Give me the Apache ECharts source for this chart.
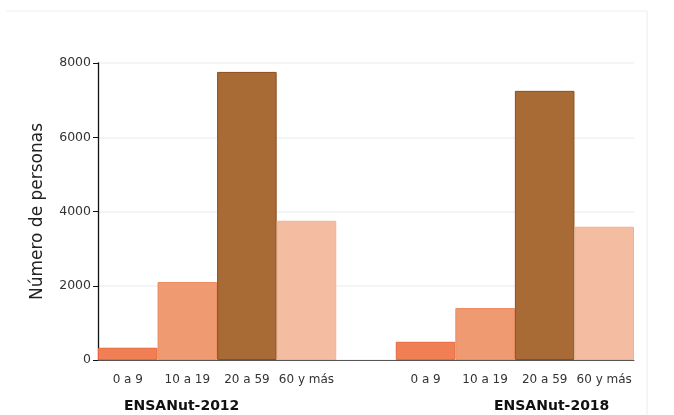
<!DOCTYPE html>
<html><head><meta charset="utf-8">
<script src="https://cdn.jsdelivr.net/npm/echarts@6/dist/echarts.min.js"></script>
<style>html,body{margin:0;padding:0;background:#fff}#c{width:674px;height:415px}</style>
</head><body><div id="c"></div>
<script>
const ageGroups = ['0 a 9', '10 a 19', '20 a 59', '60 y más'];
const surveys = ['ENSANut-2012', 'ENSANut-2018'];
const values2012 = [330, 2100, 7760, 3750];
const values2018 = [490, 1400, 7250, 3590];
const yTicks = [0, 2000, 4000, 6000, 8000];
const fills = ['#F07F56', '#F09A72', '#A86B35', '#F4BDA2'];
const borders = ['#E8683C', '#EC8C62', '#8C4E1E', '#F0B293'];

const cats = ageGroups.concat([' '], ageGroups);
const allVals = values2012.concat([null], values2018);
const data = allVals.map((v, i) => {
  if (v === null) return {value: null};
  const k = i < 4 ? i : i - 5;
  return {value: v, itemStyle: {color: fills[k], borderColor: borders[k], borderWidth: 1}};
});
const FONT = '"DejaVu Sans", sans-serif';
const chart = echarts.init(document.getElementById('c'));
chart.setOption({
  animation: false,
  grid: {left: 98, right: 40, top: 63, bottom: 55, containLabel: false},
  xAxis: {
    type: 'category', data: cats,
    axisLine: {lineStyle: {color: '#555', width: 1}},
    axisTick: {alignWithLabel: true, length: 5, lineStyle: {color: '#111'},
      interval: (i, v) => v !== ' '},
    axisLabel: {color: '#333', fontSize: 12, fontFamily: FONT, margin: 14, interval: 0}
  },
  yAxis: {
    type: 'value', min: 0, max: 8000, interval: 2000,
    name: 'Número de personas', nameLocation: 'middle', nameGap: 52,
    nameTextStyle: {fontSize: 17, color: '#222', fontFamily: FONT},
    axisLine: {show: true, lineStyle: {color: '#111', width: 1.3}},
    axisTick: {show: true, length: 5, lineStyle: {color: '#111'}},
    axisLabel: {color: '#333', fontSize: 12.5, fontFamily: FONT, margin: 7,
      formatter: v => yTicks.includes(v) ? String(v) : ''},
    splitLine: {lineStyle: {color: '#EEF2F5', width: 1.5}}
  },
  series: [{type: 'bar', data: data, barWidth: '100%', barGap: 0}],
  graphic: [
    {type: 'line', shape: {x1: 6, y1: 11, x2: 647, y2: 11}, style: {stroke: '#EEEEEE', lineWidth: 1}, silent: true},
    {type: 'line', shape: {x1: 647, y1: 11, x2: 647, y2: 415}, style: {stroke: '#E8EEF2', lineWidth: 1}, silent: true},
    {type: 'text', left: 124, top: 399, style: {text: surveys[0], fontSize: 14, fontWeight: 'bold', fill: '#111', fontFamily: FONT}},
    {type: 'text', left: 494, top: 399, style: {text: surveys[1], fontSize: 14, fontWeight: 'bold', fill: '#111', fontFamily: FONT}}
  ]
});
</script></body></html>
